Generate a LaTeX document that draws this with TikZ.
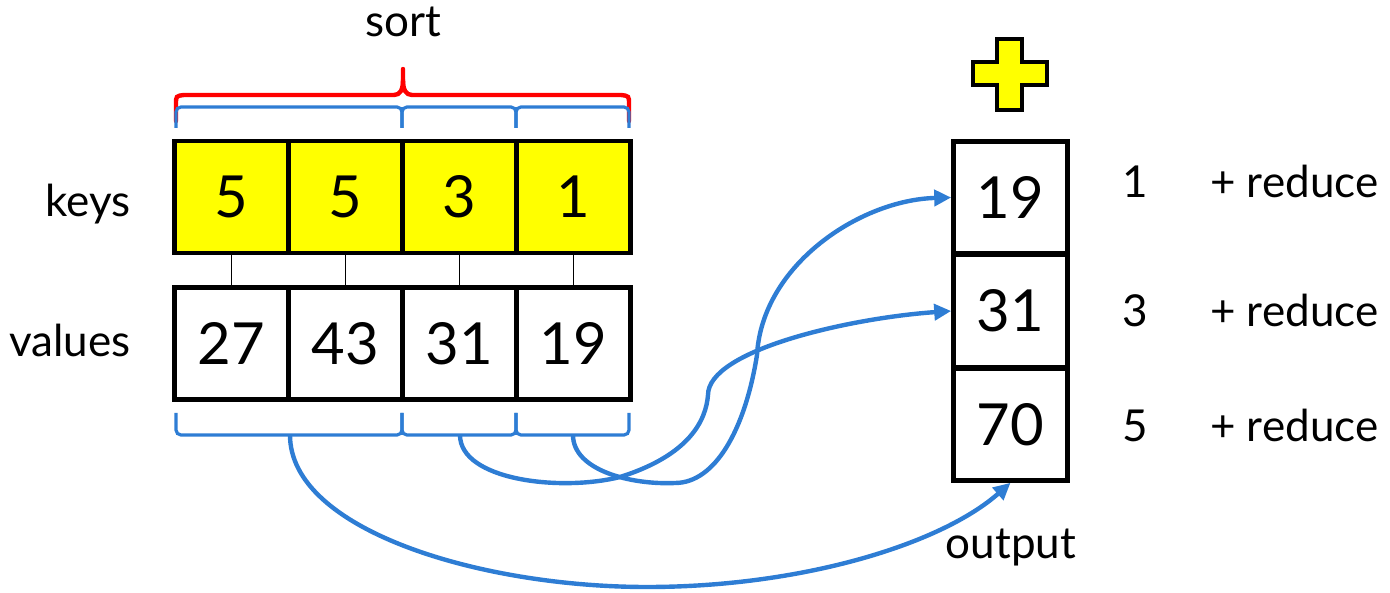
\documentclass[tikz,border=0pt]{standalone}
\usepackage{fontspec}
\setmainfont{Lato}
\usetikzlibrary{arrows.meta}
\definecolor{flowblue}{RGB}{46,125,212}
\definecolor{keyyellow}{RGB}{255,255,0}
\newcommand{\celltext}{\fontsize{58}{60}\selectfont}
\newcommand{\labeltext}{\fontsize{44}{48}\selectfont}
\begin{document}
\begin{tikzpicture}[x=1pt,y=-1pt,
  cell/.style={draw=black, line width=4.6pt, minimum width=114pt, minimum height=112pt,
               inner sep=0pt, font=\celltext},
  keycell/.style={cell, fill=keyyellow},
  lbl/.style={inner sep=0pt, font=\labeltext},
  link/.style={draw=black, line width=1.6pt},
  bracket/.style={draw=flowblue, line width=3.2pt, rounded corners=5pt},
  brace/.style={draw=red, line width=4.4pt, line cap=round},
  flow/.style={draw=flowblue, line width=4.4pt, -{Triangle[length=17pt,width=16pt]}},
]
\useasboundingbox (0,0) rectangle (1390,593);

% key row
\node[keycell] (k1) at (231.5,197) {5};
\node[keycell] (k2) at (345.5,197) {5};
\node[keycell] (k3) at (459.5,197) {3};
\node[keycell] (k4) at (573.5,197) {1};

% value row
\node[cell] (v1) at (231.5,343.5) {27};
\node[cell] (v2) at (345.5,343.5) {43};
\node[cell] (v3) at (459.5,343.5) {31};
\node[cell] (v4) at (573.5,343.5) {19};

% key/value links
\foreach \i in {1,...,4} \draw[link] (k\i.south) -- (v\i.north);

% row labels
\node[lbl, anchor=base east] (keys) at (131,217) {keys};
\node[lbl, anchor=base east] (values) at (131,357) {values};
\node[lbl, anchor=base] (sort) at (403,37) {sort};

% sort brace
\draw[brace] (176,121) -- (176,104) .. controls (176,96) .. (184,95) -- (394,95)
  .. controls (400,95) and (403,90) .. (403,80) -- (403,69);
\draw[brace] (403,80) .. controls (403,90) and (406,95) .. (412,95) -- (621,95)
  .. controls (629,96) .. (629,104) -- (629,121);

% group brackets above the keys
\draw[bracket] (176,128) |- (402,107) -- (402,128);
\draw[bracket] (402,128) |- (516,107) -- (516,128);
\draw[bracket] (516,128) |- (629,107) -- (629,128);

% group brackets below the values
\draw[bracket] (176,413) |- (402,435) -- (402,413);
\draw[bracket] (402,413) |- (516,435) -- (516,413);
\draw[bracket] (516,413) |- (629,435) -- (629,413);
\coordinate (g1) at (290,435);
\coordinate (g2) at (460,435);
\coordinate (g3) at (573,435);

% output column
\node[cell] (o1) at (1010.5,197.5) {19};
\node[cell] (o2) at (1010.5,311) {31};
\node[cell] (o3) at (1010.5,424.5) {70};
\node[lbl, anchor=base] (out) at (1011,558) {output};

% plus sign
\draw[fill=keyyellow, line width=3.4pt, line join=miter]
  (997,39) -- (1022,39) -- (1022,62) -- (1047,62) -- (1047,85) -- (1022,85)
  -- (1022,110) -- (997,110) -- (997,85) -- (973,85) -- (973,62) -- (997,62) -- cycle;

% reduce labels
\node[lbl, anchor=base] (r1k) at (1135,198) {1};
\node[lbl, anchor=base] (r2k) at (1135,327) {3};
\node[lbl, anchor=base] (r3k) at (1135,442) {5};
\node[lbl, anchor=base west] (r1) at (1210,198) {+ reduce};
\node[lbl, anchor=base west] (r2) at (1210,327) {+ reduce};
\node[lbl, anchor=base west] (r3) at (1210,442) {+ reduce};

% reduced values flowing into the output
\draw[flow] (g3) .. controls (573,470) and (630,485) .. (675,483)
  .. controls (715,483) and (745,430) .. (757,355)
  .. controls (762,265) and (860,200) .. (o1.west);
\draw[flow] (g2) .. controls (460,480) and (560,492) .. (620,477)
  .. controls (690,455) and (706,420) .. (708,395)
  .. controls (708,350) and (850,318) .. (o2.west);
\draw[flow] (g1) .. controls (290,530) and (480,587) .. (647,587)
  .. controls (800,587) and (940,545) .. (o3.south);
\end{tikzpicture}
\end{document}
